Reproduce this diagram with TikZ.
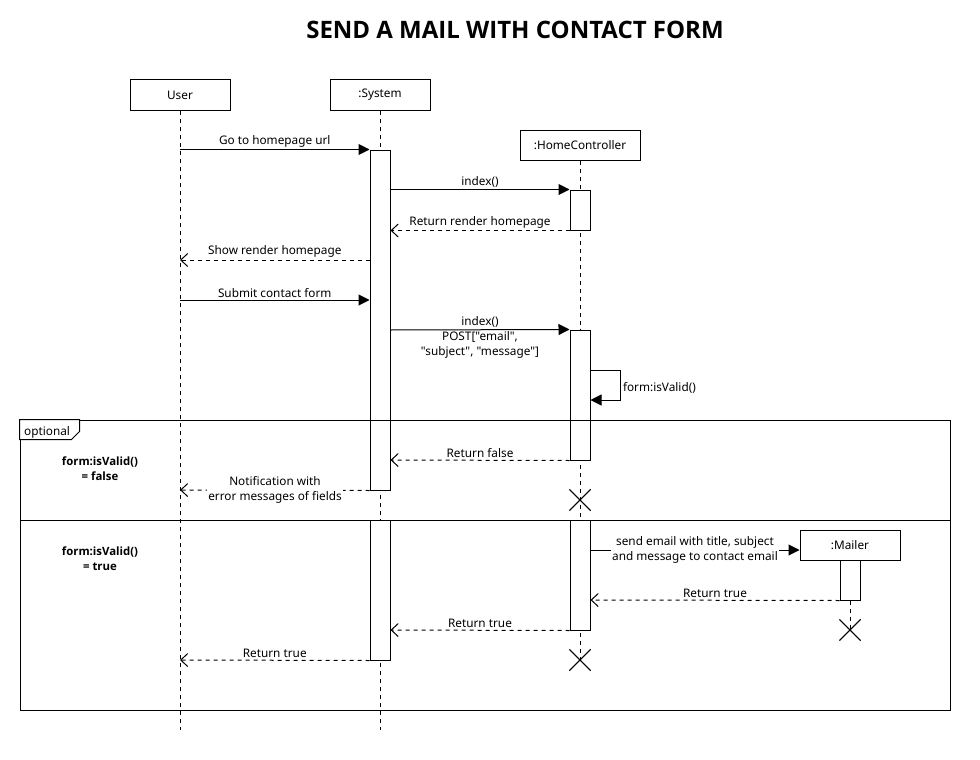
\documentclass[tikz,border=0pt]{standalone}
\usepackage{fontspec}
\setmainfont{Noto Sans}
\newfontfamily\mainfam{Noto Sans}
\newfontfamily\boldfam{Open Sans}
\usetikzlibrary{arrows.meta,shapes.misc,calc}
\begin{document}
\begin{tikzpicture}[x=1pt,y=-1pt,
  every node/.style={font=\mainfam\fontsize{11.8}{13}\selectfont, inner sep=1pt},
  head/.style={draw, fill=white, line width=1pt, minimum width=100pt, minimum height=30pt, inner sep=0pt},
  life/.style={line width=1pt, dash pattern=on 4pt off 4pt},
  act/.style={draw, fill=white, line width=1pt, minimum width=20pt, inner sep=0pt},
  call/.style={line width=1pt, -{Triangle[length=11pt,width=11pt]}},
  ret/.style={line width=1pt, dash pattern=on 4pt off 4pt, -{Straight Barb[length=7pt,width=13pt,line width=1pt]}},
  lbl/.style={align=center, inner sep=1pt},
  two/.style={font=\mainfam\fontsize{11.8}{15}\selectfont},
  xmark/.style={cross out, draw, line width=1pt, minimum size=20pt, inner sep=0pt},
  guard/.style={font=\boldfam\fontsize{11.4}{15}\selectfont\bfseries, align=center}
]
\useasboundingbox (0,0) rectangle (980,760);
\node[font=\boldfam\fontsize{24}{28}\selectfont\bfseries] (title) at (515,30) {SEND A MAIL WITH CONTACT FORM};

% heads
\node[head] (user) at (180,95) {User};
\node[head] (sys) at (380,95) {:System};
\node[head, minimum width=120pt] (hc) at (580,145) {:HomeController};
\node[head] (mailer) at (850,545) {:Mailer};

% end coordinates
\coordinate (userEnd) at (180,730);
\coordinate (sysEnd) at (380,730);
\node[xmark] (hcX1) at (580,500) {};
\node[xmark] (hcX2) at (580,660) {};
\node[xmark] (mlX) at (850,630) {};

% lifelines
\draw[life] (user.south) -- (userEnd);
\draw[life] (sys.south) -- (sysEnd);
\draw[life] (hc.south) -- (hcX2.center);
\draw[life] (mailer.south) -- (mlX.center);

% activations
\node[act, minimum height=340pt] (sysA1) at (380,320) {};
\node[act, minimum height=140pt] (sysA2) at (380,590) {};
\node[act, minimum height=40pt] (hcA1) at (580,210) {};
\node[act, minimum height=130pt] (hcA2) at (580,395) {};
\node[act, minimum height=110pt] (hcA3) at (580,575) {};
\node[act, minimum height=40pt] (mlA) at (850,580) {};

% redraw X marks on top
\node[xmark] at (hcX1) {};
\node[xmark] at (hcX2) {};
\node[xmark] at (mlX) {};

% y levels
\coordinate (y260) at (0,260);
\coordinate (y300) at (0,300);
\coordinate (y330) at (0,330);
\coordinate (y370) at (0,370);
\coordinate (y400) at (0,400);
\coordinate (y460) at (0,460);
\coordinate (y490) at (0,490);
\coordinate (y520) at (0,520);
\coordinate (y550) at (0,550);
\coordinate (y600) at (0,600);
\coordinate (y630) at (0,630);
\coordinate (y660) at (0,660);

% messages
\draw[call] (user |- sysA1.north) -- (sysA1.north west)
  node[lbl, midway, above=1pt] {Go to homepage url};
\draw[call] (sysA1.east |- hcA1.north) -- (hcA1.north west)
  node[lbl, midway, above=1pt] {index()};
\draw[ret] (hcA1.south west) -- (sysA1.east |- hcA1.south)
  node[lbl, midway, above=1pt] {Return render homepage};
\draw[ret] (sysA1.west |- y260) -- (user |- y260)
  node[lbl, midway, above=1pt] {Show render homepage};
\draw[call] (user |- y300) -- (sysA1.west |- y300)
  node[lbl, midway, above=1pt] {Submit contact form};
\draw[call] (sysA1.east |- y330) -- (hcA2.north west);
\node[lbl, two] (postlbl) at (480,337) {index()\\POST["email",\\"subject", "message"]};
\draw[call] (hcA2.east |- y370) -- ++(30,0) -- ++(0,30)
  node[pos=0.6, right=1pt, inner sep=1pt] {form:isValid()} -- (hcA2.east |- y400);
\draw[ret] (hcA2.south west) -- (sysA1.east |- y460)
  node[lbl, midway, above=1pt] {Return false};
\draw[ret] (sysA1.south west) -- (user |- y490);
\node[lbl, two, fill=white] (notif) at (275,490) {Notification with\\error messages of fields};
\draw[call] (hcA3.east |- y550) -- (mailer.west |- y550);
\node[lbl, two, fill=white] (sendlbl) at (695,550) {send email with title, subject\\and message to contact email};
\draw[ret] (mlA.south west) -- (hcA3.east |- y600)
  node[lbl, midway, above=1pt] {Return true};
\draw[ret] (hcA3.south west) -- (sysA2.east |- y630)
  node[lbl, midway, above=1pt] {Return true};
\draw[ret] (sysA2.south west) -- (user |- y660)
  node[lbl, midway, above=1pt] {Return true};

% combined fragment
\node[draw, line width=1pt, minimum width=930pt, minimum height=290pt, inner sep=0pt] (frame) at (485,565) {};
\draw[line width=1pt] (frame.west |- y520) -- (frame.east |- y520);
\draw[line width=1pt, fill=white] (frame.north west) -- ++(60,0) -- ++(0,12) -- ++(-8,8) -- ++(-52,0) -- cycle;
\node[anchor=west, inner sep=0pt] (optlbl) at (24,432) {optional};
\node[guard] (g1) at (100,469) {form:isValid()\\= false};
\node[guard] (g2) at (100,559) {form:isValid()\\= true};
\end{tikzpicture}
\end{document}
